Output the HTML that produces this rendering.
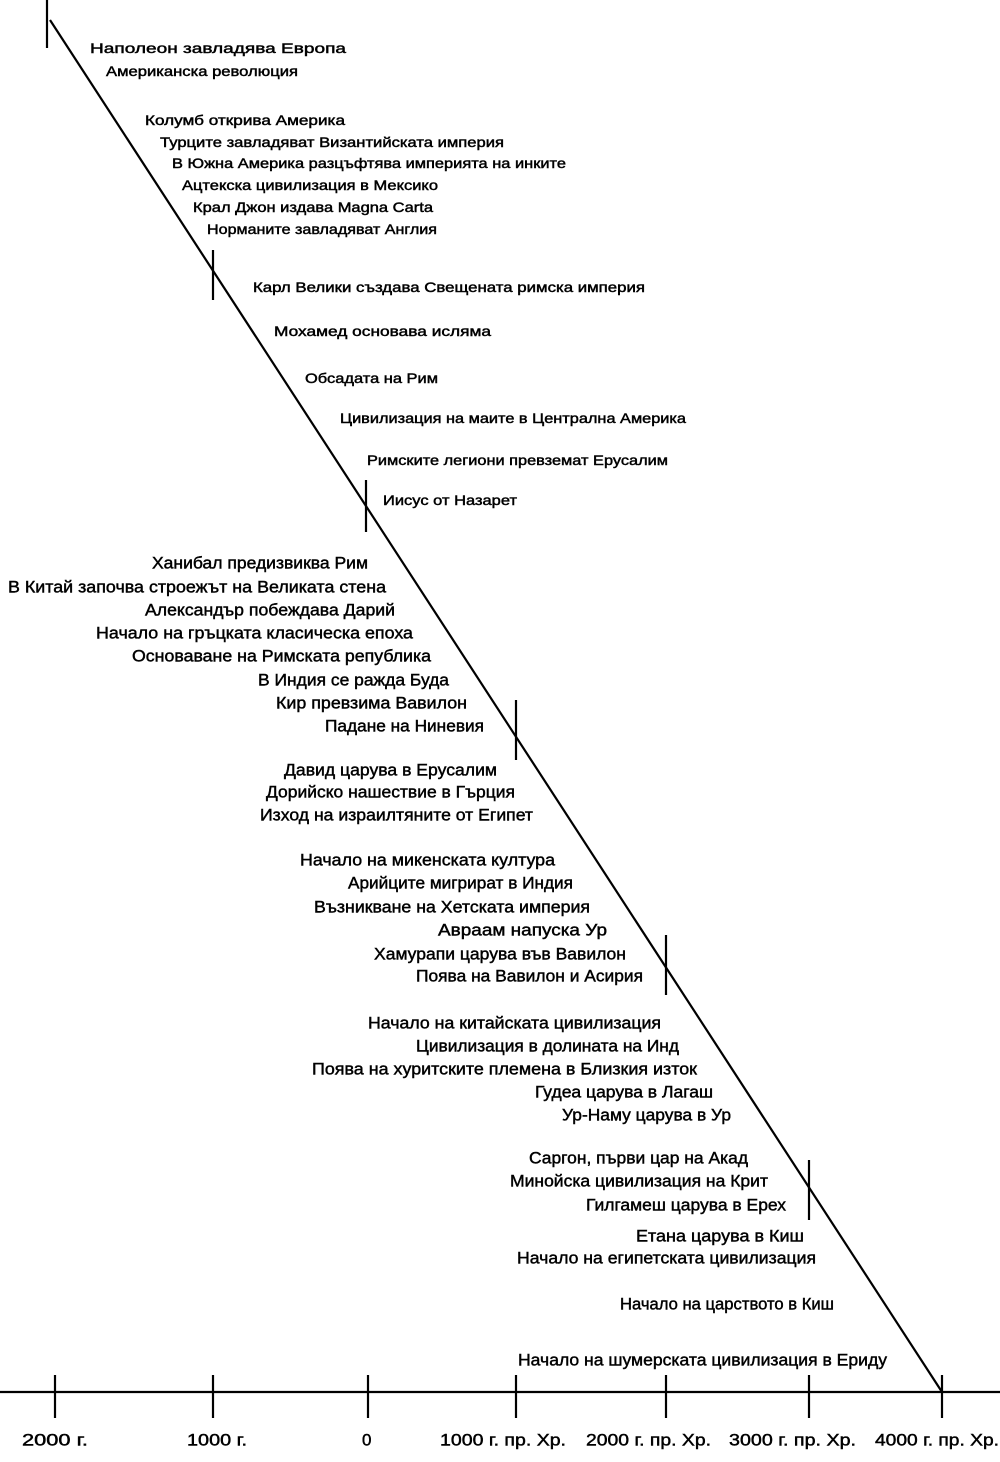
<!DOCTYPE html>
<html><head><meta charset="utf-8"><style>
html,body{margin:0;padding:0;background:#fff}
svg{display:block}
text{font-family:"Liberation Sans",sans-serif;fill:#000;dominant-baseline:central;stroke:#000;stroke-width:0.45}
.s{font-size:14px}
.b{font-size:17px}
</style></head><body>
<svg width="1000" height="1462" viewBox="0 0 1000 1462" xmlns="http://www.w3.org/2000/svg">
<g stroke="#000" stroke-width="2.2" fill="none">
<line x1="50" y1="20" x2="942" y2="1392"/>
<line x1="47" y1="0" x2="47" y2="48"/>
<line x1="213" y1="250" x2="213" y2="300"/>
<line x1="366" y1="480" x2="366" y2="532"/>
<line x1="516" y1="700" x2="516" y2="760"/>
<line x1="666" y1="935" x2="666" y2="995"/>
<line x1="809" y1="1160" x2="809" y2="1220"/>
<line x1="0" y1="1392" x2="1000" y2="1392"/>
<line x1="55" y1="1375" x2="55" y2="1418"/>
<line x1="213" y1="1375" x2="213" y2="1418"/>
<line x1="368" y1="1375" x2="368" y2="1418"/>
<line x1="516" y1="1375" x2="516" y2="1418"/>
<line x1="666" y1="1375" x2="666" y2="1418"/>
<line x1="809" y1="1375" x2="809" y2="1418"/>
<line x1="942" y1="1375" x2="942" y2="1418"/>
</g>
<text class="s" x="90" y="48" textLength="256" lengthAdjust="spacingAndGlyphs">Наполеон завладява Европа</text>
<text class="s" x="106" y="71" textLength="192" lengthAdjust="spacingAndGlyphs">Американска революция</text>
<text class="s" x="145" y="120" textLength="200" lengthAdjust="spacingAndGlyphs">Колумб открива Америка</text>
<text class="s" x="160" y="142" textLength="344" lengthAdjust="spacingAndGlyphs">Турците завладяват Византийската империя</text>
<text class="s" x="172" y="163" textLength="394" lengthAdjust="spacingAndGlyphs">В Южна Америка разцъфтява империята на инките</text>
<text class="s" x="182" y="185" textLength="256" lengthAdjust="spacingAndGlyphs">Ацтекска цивилизация в Мексико</text>
<text class="s" x="193" y="207" textLength="240" lengthAdjust="spacingAndGlyphs">Крал Джон издава Magna Carta</text>
<text class="s" x="207" y="229" textLength="230" lengthAdjust="spacingAndGlyphs">Норманите завладяват Англия</text>
<text class="s" x="253" y="287" textLength="392" lengthAdjust="spacingAndGlyphs">Карл Велики създава Свещената римска империя</text>
<text class="s" x="274" y="331" textLength="217" lengthAdjust="spacingAndGlyphs">Мохамед основава исляма</text>
<text class="s" x="305" y="378" textLength="133" lengthAdjust="spacingAndGlyphs">Обсадата на Рим</text>
<text class="s" x="340" y="418" textLength="346" lengthAdjust="spacingAndGlyphs">Цивилизация на маите в Централна Америка</text>
<text class="s" x="367" y="460" textLength="301" lengthAdjust="spacingAndGlyphs">Римските легиони превземат Ерусалим</text>
<text class="s" x="383" y="500" textLength="134" lengthAdjust="spacingAndGlyphs">Иисус от Назарет</text>
<text class="b" x="152" y="563" textLength="216" lengthAdjust="spacingAndGlyphs">Ханибал предизвиква Рим</text>
<text class="b" x="8" y="587" textLength="378" lengthAdjust="spacingAndGlyphs">В Китай започва строежът на Великата стена</text>
<text class="b" x="145" y="610" textLength="250" lengthAdjust="spacingAndGlyphs">Александър побеждава Дарий</text>
<text class="b" x="96" y="633" textLength="317" lengthAdjust="spacingAndGlyphs">Начало на гръцката класическа епоха</text>
<text class="b" x="132" y="656" textLength="299" lengthAdjust="spacingAndGlyphs">Основаване на Римската република</text>
<text class="b" x="258" y="680" textLength="191" lengthAdjust="spacingAndGlyphs">В Индия се ражда Буда</text>
<text class="b" x="276" y="703" textLength="191" lengthAdjust="spacingAndGlyphs">Кир превзима Вавилон</text>
<text class="b" x="325" y="726" textLength="159" lengthAdjust="spacingAndGlyphs">Падане на Ниневия</text>
<text class="b" x="284" y="770" textLength="213" lengthAdjust="spacingAndGlyphs">Давид царува в Ерусалим</text>
<text class="b" x="266" y="792" textLength="249" lengthAdjust="spacingAndGlyphs">Дорийско нашествие в Гърция</text>
<text class="b" x="260" y="815" textLength="273" lengthAdjust="spacingAndGlyphs">Изход на израилтяните от Египет</text>
<text class="b" x="300" y="860" textLength="255" lengthAdjust="spacingAndGlyphs">Начало на микенската култура</text>
<text class="b" x="348" y="883" textLength="225" lengthAdjust="spacingAndGlyphs">Арийците мигрират в Индия</text>
<text class="b" x="314" y="907" textLength="276" lengthAdjust="spacingAndGlyphs">Възникване на Хетската империя</text>
<text class="b" x="438" y="930" textLength="169" lengthAdjust="spacingAndGlyphs">Авраам напуска Ур</text>
<text class="b" x="374" y="954" textLength="252" lengthAdjust="spacingAndGlyphs">Хамурапи царува във Вавилон</text>
<text class="b" x="416" y="976" textLength="227" lengthAdjust="spacingAndGlyphs">Поява на Вавилон и Асирия</text>
<text class="b" x="368" y="1023" textLength="293" lengthAdjust="spacingAndGlyphs">Начало на китайската цивилизация</text>
<text class="b" x="416" y="1046" textLength="263" lengthAdjust="spacingAndGlyphs">Цивилизация в долината на Инд</text>
<text class="b" x="312" y="1069" textLength="385" lengthAdjust="spacingAndGlyphs">Поява на хуритските племена в Близкия изток</text>
<text class="b" x="535" y="1092" textLength="178" lengthAdjust="spacingAndGlyphs">Гудеа царува в Лагаш</text>
<text class="b" x="562" y="1115" textLength="169" lengthAdjust="spacingAndGlyphs">Ур-Наму царува в Ур</text>
<text class="b" x="529" y="1158" textLength="219" lengthAdjust="spacingAndGlyphs">Саргон, първи цар на Акад</text>
<text class="b" x="510" y="1181" textLength="258" lengthAdjust="spacingAndGlyphs">Минойска цивилизация на Крит</text>
<text class="b" x="586" y="1205" textLength="200" lengthAdjust="spacingAndGlyphs">Гилгамеш царува в Ерех</text>
<text class="b" x="636" y="1236" textLength="168" lengthAdjust="spacingAndGlyphs">Етана царува в Киш</text>
<text class="b" x="517" y="1258" textLength="299" lengthAdjust="spacingAndGlyphs">Начало на египетската цивилизация</text>
<text class="b" x="620" y="1304" textLength="214" lengthAdjust="spacingAndGlyphs">Начало на царството в Киш</text>
<text class="b" x="518" y="1360" textLength="369" lengthAdjust="spacingAndGlyphs">Начало на шумерската цивилизация в Ериду</text>
<text class="b" x="22" y="1440" textLength="66" lengthAdjust="spacingAndGlyphs">2000 г.</text>
<text class="b" x="187" y="1440" textLength="60" lengthAdjust="spacingAndGlyphs">1000 г.</text>
<text class="b" x="362" y="1440">0</text>
<text class="b" x="440" y="1440" textLength="126" lengthAdjust="spacingAndGlyphs">1000 г. пр. Хр.</text>
<text class="b" x="586" y="1440" textLength="125" lengthAdjust="spacingAndGlyphs">2000 г. пр. Хр.</text>
<text class="b" x="729" y="1440" textLength="127" lengthAdjust="spacingAndGlyphs">3000 г. пр. Хр.</text>
<text class="b" x="875" y="1440" textLength="124" lengthAdjust="spacingAndGlyphs">4000 г. пр. Хр.</text>
</svg>
</body></html>
